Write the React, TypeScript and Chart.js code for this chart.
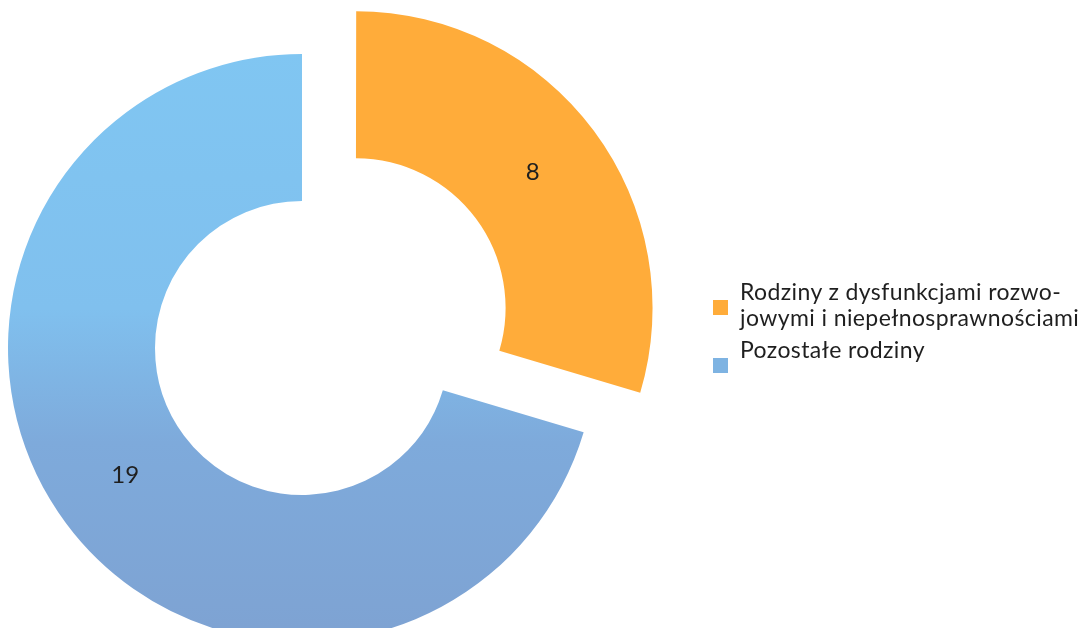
import React, { useEffect, useRef } from 'react';
import { Chart, registerables, ArcElement, Plugin } from 'chart.js';

Chart.register(...registerables);

// Data
const labels: (string | string[])[] = [
  ['Rodziny z dysfunkcjami rozwo-', 'jowymi i niepełnosprawnościami'],
  'Pozostałe rodziny',
];
const values = [8, 19];
const colors = ['#FFAC3A', '#7FBFEC'];
const offsets = [268, 0];

const FONT = 'Lato, "Noto Sans", sans-serif';

// writes the value in the middle of each ring segment
const valueLabels: Plugin<'doughnut'> = {
  id: 'valueLabels',
  afterDatasetsDraw(chart) {
    const { ctx } = chart;
    const meta = chart.getDatasetMeta(0);
    ctx.save();
    ctx.font = `24px ${FONT}`;
    ctx.fillStyle = '#1f1f1f';
    ctx.textAlign = 'center';
    ctx.textBaseline = 'middle';
    meta.data.forEach((el, i) => {
      const arc = el as ArcElement;
      const { x, y, startAngle, endAngle, innerRadius, outerRadius } = arc.getProps(
        ['x', 'y', 'startAngle', 'endAngle', 'innerRadius', 'outerRadius'],
        true
      ) as any;
      const half = (startAngle + endAngle) / 2;
      const shift = ((arc.options as any).offset || 0) / 4;
      const r = (innerRadius + outerRadius) / 2 + shift;
      ctx.fillText(String(values[i]), x + Math.cos(half) * r, y + Math.sin(half) * r - 4);
    });
    ctx.restore();
  },
};

export default function App() {
  const canvasRef = useRef<HTMLCanvasElement>(null);
  const chartRef = useRef<Chart | null>(null);

  useEffect(() => {
    if (!canvasRef.current) return;
    if (chartRef.current) chartRef.current.destroy();

    chartRef.current = new Chart(canvasRef.current, {
      type: 'doughnut',
      data: {
        labels,
        datasets: [
          {
            data: values,
            backgroundColor: (c: any) => {
              const area = c.chart.chartArea;
              if (c.dataIndex !== 1 || !area) return colors[c.dataIndex];
              const g = c.chart.ctx.createLinearGradient(0, area.top - 20, 0, area.bottom);
              g.addColorStop(0, '#80C6F2');
              g.addColorStop(0.45, '#80C0EE');
              g.addColorStop(0.68, '#7EAADB');
              g.addColorStop(1, '#7EA3D3');
              return g;
            },
            borderWidth: 0,
            offset: offsets,
            hoverOffset: 0,
          },
        ],
      },
      options: {
        responsive: false,
        animation: false,
        radius: 294,
        cutout: '50%',
        layout: { padding: { left: 0, right: 481, top: 68, bottom: 0 } },
        plugins: {
          legend: { display: false },
          tooltip: { enabled: false },
        },
      },
      plugins: [valueLabels],
    });

    return () => {
      chartRef.current?.destroy();
      chartRef.current = null;
    };
  }, []);

  return (
    <div
      style={{
        position: 'absolute',
        left: 0,
        top: 0,
        width: 1085,
        height: 628,
        overflow: 'hidden',
        background: '#fff',
        fontFamily: FONT,
      }}
    >
      <canvas ref={canvasRef} width={1085} height={628} style={{ display: 'block' }} />
      <div style={{ position: 'absolute', left: 713, top: 278, color: '#1f1f1f' }}>
        {labels.map((label, i) => (
          <div key={i} style={{ display: 'flex', alignItems: 'flex-start', marginBottom: 6 }}>
            <span
              style={{
                width: 15,
                height: 15,
                marginTop: 22,
                marginRight: 12,
                flexShrink: 0,
                background: i === 1 ? '#7EB3E2' : colors[i],
              }}
            />
            <div style={{ fontSize: 23, lineHeight: '26px', letterSpacing: 0.4, whiteSpace: 'nowrap' }}>
              {(Array.isArray(label) ? label : [label]).map((line, j) => (
                <div key={j}>{line}</div>
              ))}
            </div>
          </div>
        ))}
      </div>
    </div>
  );
}
